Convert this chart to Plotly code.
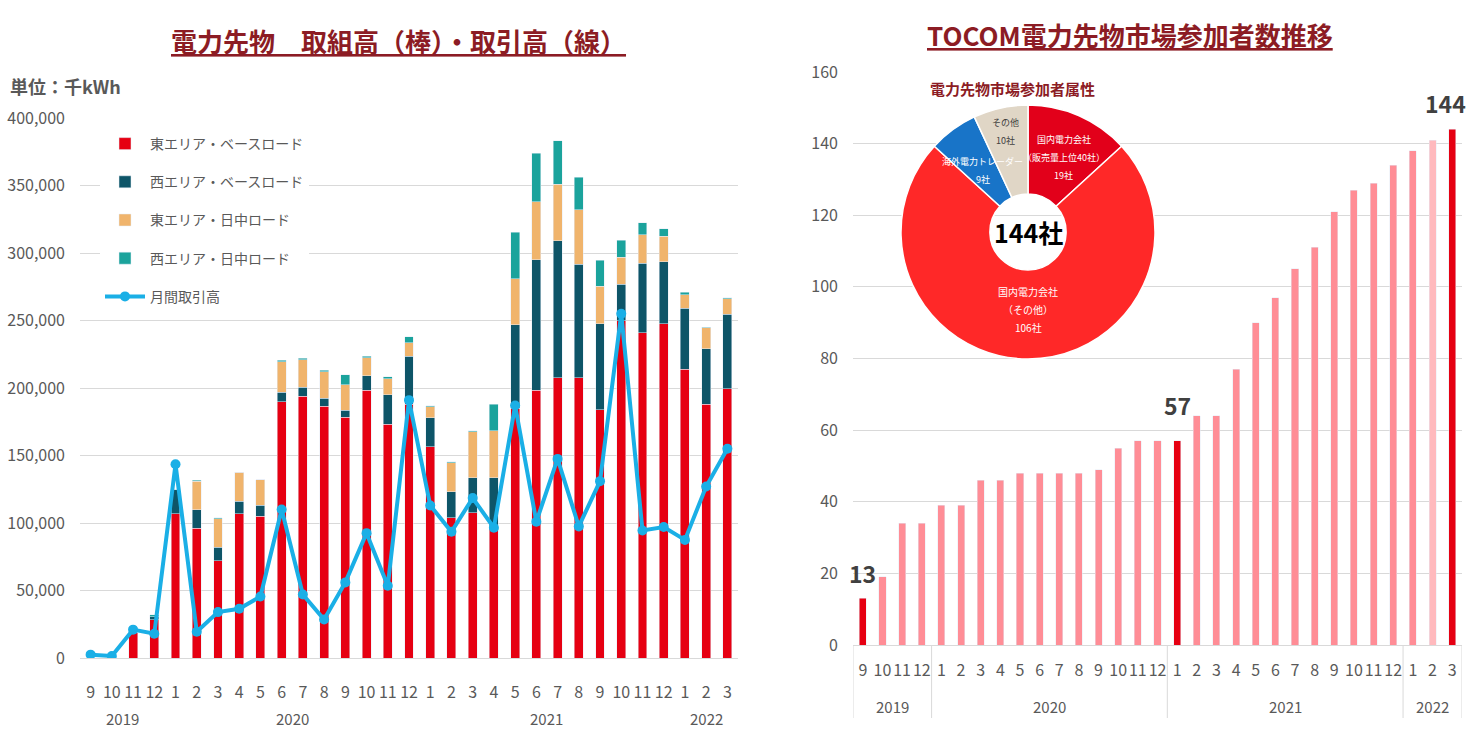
import math
import plotly.graph_objects as go

W, H = 1472, 734

# ---------------- data: left chart ----------------
years_l = ["2019", "2019", "2019", "2019",
           "2020", "2020", "2020", "2020", "2020", "2020", "2020", "2020", "2020", "2020", "2020", "2020",
           "2021", "2021", "2021", "2021", "2021", "2021", "2021", "2021", "2021", "2021", "2021", "2021",
           "2022", "2022", "2022"]
months_l = ["9", "10", "11", "12",
            "1", "2", "3", "4", "5", "6", "7", "8", "9", "10", "11", "12",
            "1", "2", "3", "4", "5", "6", "7", "8", "9", "10", "11", "12",
            "1", "2", "3"]

east_base = [0, 0, 19000, 28500,
             107000, 96000, 72000, 107000, 105000, 190000, 194000, 186500, 178500, 198500, 173000, 188000,
             156500, 104000, 107500, 97000, 185000, 198500, 207500, 207500, 184000, 250000, 241000, 247500,
             214000, 188000, 199500]
west_base = [0, 0, 0, 2000,
             18000, 14000, 10000, 9000, 8000, 7000, 6500, 6000, 5000, 10500, 22000, 35500,
             21500, 19000, 26000, 36500, 62000, 96500, 101500, 84000, 63500, 27000, 51500, 46000,
             45000, 41000, 55000]
east_day = [0, 0, 0, 0,
            0, 21000, 21000, 21500, 19000, 22500, 20500, 19500, 19000, 13500, 12000, 10000,
            8000, 21500, 34000, 35000, 34000, 43000, 42000, 40500, 28000, 20000, 21000, 19000,
            10000, 15500, 11500]
west_day = [0, 0, 0, 1500,
            0, 500, 1000, 0, 0, 1000, 1000, 1000, 7500, 1000, 1500, 4500,
            1000, 1000, 1000, 19500, 34500, 36000, 32000, 24000, 19000, 12500, 9000, 5500,
            2000, 500, 1000]
monthly_trade = [2500, 1500, 21000, 18000,
                 143500, 19500, 34000, 36500, 45500, 110000, 47000, 28500, 56000, 92500, 53500, 191000,
                 113000, 93500, 118500, 96500, 187000, 101000, 147500, 97500, 131000, 255000, 94500, 97000,
                 87500, 127000, 155000]

series_names = ["東エリア・ベースロード", "西エリア・ベースロード", "東エリア・日中ロード", "西エリア・日中ロード"]
line_name = "月間取引高"
left_yticks = [0, 50000, 100000, 150000, 200000, 250000, 300000, 350000, 400000]

# ---------------- data: right chart ----------------
years_r = years_l
months_r = months_l
participants = [13, 19, 34, 34,
                39, 39, 46, 46, 48, 48, 48, 48, 49, 55, 57, 57,
                57, 64, 64, 77, 90, 97, 105, 111, 121, 127, 129, 134,
                138, 141, 144]
highlight_idx = [0, 16, 30]
light_idx = [29]
right_yticks = [0, 20, 40, 60, 80, 100, 120, 140, 160]

pie_labels = ["国内電力会社（販売量上位40社）", "国内電力会社（その他）", "海外電力トレーダー", "その他"]
pie_text_lines = [["国内電力会社", "（販売量上位40社）", "19社"],
                  ["国内電力会社", "（その他）", "106社"],
                  ["海外電力トレーダー", "9社"],
                  ["その他", "10社"]]
pie_values = [19, 106, 9, 10]
pie_total_label = "144社"

# ---------------- styles ----------------
FONT = "Noto Sans CJK JP"
GRAY = "#595959"
GRID = "#D9D9D9"
TITLE_C = "#8C1C24"
bar_colors = ["#E60012", "#0E5568", "#F0B46C", "#1BA39C"]
line_color = "#1AAFE6"
pink = "#FF8D96"
light_pink = "#FFB9BD"
dark_red = "#E60012"
pie_colors = ["#E2001A", "#FF2828", "#1874C8", "#E0D6C6"]
pie_text_colors = ["white", "white", "white", "#404040"]
pie_text_sizes = [9, 10, 9, 9]
pie_label_r = [0.64, 0.61, 0.60, 0.81]     # label distance from centre (fraction of radius)
pie_label_dx = [3, 0, 0, 0]                # small horizontal nudges (px)
pie_line_gap = 18                          # px between label lines
pie_box = (901, 105, 1155, 359)            # x0, y0, x1, y1 in pixels
bar_label_yshift = [6, 17, 7]              # px gap above highlighted bars
bar_label_xshift = [0, 0, -7]


def px_x(x):
    return x / W


def px_y(y):
    return 1 - y / H


xi_l = list(range(len(months_l)))
xi_r = list(range(len(months_r)))

fig = go.Figure()

for name, vals, col in zip(series_names, [east_base, west_base, east_day, west_day], bar_colors):
    fig.add_trace(go.Bar(x=xi_l, y=vals, name=name, marker_color=col, width=0.42,
                         legendgroup=name, xaxis="x", yaxis="y",
                         customdata=[f"{y}/{m}" for y, m in zip(years_l, months_l)],
                         hovertemplate="%{customdata}: %{y:,}<extra>" + name + "</extra>"))
fig.add_trace(go.Scatter(x=xi_l, y=monthly_trade, name=line_name, mode="lines+markers",
                         line=dict(color=line_color, width=4), marker=dict(size=10, color=line_color),
                         legendgroup=line_name, xaxis="x", yaxis="y"))

bar_cols_r = []
for i, v in enumerate(participants):
    if i in highlight_idx:
        bar_cols_r.append(dark_red)
    elif i in light_idx:
        bar_cols_r.append(light_pink)
    else:
        bar_cols_r.append(pink)

fig.add_trace(go.Bar(x=xi_r, y=participants, marker_color=bar_cols_r, width=0.36,
                     customdata=[f"{y}/{m}" for y, m in zip(years_r, months_r)],
                     hovertemplate="%{customdata}: %{y}<extra></extra>",
                     showlegend=False, xaxis="x2", yaxis="y2"))

bx0, by0, bx1, by1 = pie_box
pie_dom_x = [px_x(bx0), px_x(bx1)]
pie_dom_y = [px_y(by1), px_y(by0)]
fig.add_trace(go.Pie(labels=pie_labels, values=pie_values, hole=0.3, sort=False,
                     direction="clockwise", rotation=0, domain=dict(x=pie_dom_x, y=pie_dom_y),
                     showlegend=False, textinfo="none",
                     marker=dict(colors=pie_colors, line=dict(color="white", width=1.5)),
                     hoverinfo="label+value"))

tickfont = dict(family=FONT, size=16, color=GRAY)

fig.update_layout(
    width=W, height=H, margin=dict(l=0, r=0, t=0, b=0, autoexpand=False),
    paper_bgcolor="white", plot_bgcolor="white",
    barmode="stack",
    font=dict(family=FONT, color=GRAY),
    xaxis=dict(domain=[px_x(80), px_x(738)], anchor="y", range=[-0.5, len(xi_l) - 0.5],
               tickvals=xi_l, ticktext=months_l, tickangle=0, tickfont=tickfont,
               showgrid=False, zeroline=False, showline=True, linecolor=GRID, linewidth=1,
               ticks="", ticklabelstandoff=20, automargin=False),
    yaxis=dict(domain=[px_y(658), px_y(118)], anchor="x", range=[0, 400000],
               tickvals=left_yticks, tickformat=",", tickfont=tickfont,
               showgrid=True, gridcolor=GRID, gridwidth=1, zeroline=False,
               ticklabelstandoff=14, automargin=False),
    xaxis2=dict(domain=[px_x(853), px_x(1462)], anchor="y2", range=[-0.5, len(xi_r) - 0.5],
                tickvals=xi_r, ticktext=months_r, tickangle=0, tickfont=tickfont,
                showgrid=False, zeroline=False, showline=True, linecolor=GRID, linewidth=1,
                ticks="", ticklabelstandoff=11, automargin=False),
    yaxis2=dict(domain=[px_y(645), px_y(72)], anchor="x2", range=[0, 160],
                tickvals=right_yticks, tickfont=tickfont,
                showgrid=True, gridcolor=GRID, gridwidth=1, zeroline=False,
                ticklabelstandoff=14, automargin=False),
    legend=dict(x=px_x(100), y=px_y(128), xanchor="left", yanchor="top",
                bgcolor="white", font=dict(family=FONT, size=14, color=GRAY),
                traceorder="grouped", tracegroupgap=17, itemwidth=40),
)

annotations = [
    dict(text="<u>電力先物　取組高（棒）・取引高（線）</u>", x=px_x(398), y=px_y(40),
         font=dict(family=FONT, size=26, color=TITLE_C, weight="bold")),
    dict(text="<u>TOCOM電力先物市場参加者数推移</u>", x=px_x(1130), y=px_y(35),
         font=dict(family=FONT, size=26, color=TITLE_C, weight="bold")),
    dict(text="単位：千kWh", x=px_x(8), y=px_y(86), xanchor="left",
         font=dict(family=FONT, size=18, color=GRAY, weight="bold")),
    dict(text="電力先物市場参加者属性", x=px_x(1012), y=px_y(88),
         font=dict(family=FONT, size=15, color=TITLE_C, weight="bold")),
    dict(text=pie_total_label, x=sum(pie_dom_x) / 2, y=sum(pie_dom_y) / 2,
         font=dict(family=FONT, size=25, color="black", weight="bold")),
]
for a in annotations:
    a.update(xref="paper", yref="paper")

# value labels above the highlighted bars
for k, i in enumerate(highlight_idx):
    annotations.append(dict(text=str(participants[i]), x=xi_r[i], y=participants[i], xref="x2", yref="y2",
                            yanchor="bottom", yshift=bar_label_yshift[k], xshift=bar_label_xshift[k],
                            font=dict(family=FONT, size=23, color="#404040", weight="bold")))

# pie slice labels: placed at each slice's mid-angle (computed from the values)
cx, cy, R = (bx0 + bx1) / 2, (by0 + by1) / 2, (bx1 - bx0) / 2
total = sum(pie_values)
start = 0.0
for k, v in enumerate(pie_values):
    mid = math.radians((start + v / 2) / total * 360)
    start += v
    lx = cx + pie_label_r[k] * R * math.sin(mid) + pie_label_dx[k]
    ly = cy - pie_label_r[k] * R * math.cos(mid)
    lines = pie_text_lines[k]
    n = len(lines)
    for j, line in enumerate(lines):
        annotations.append(dict(text=line, x=px_x(lx), y=px_y(ly + (j - (n - 1) / 2) * pie_line_gap),
                                xref="paper", yref="paper",
                                font=dict(family=FONT, size=pie_text_sizes[k], color=pie_text_colors[k])))


# year labels under the month ticks (centred on each year's months)
def year_groups(years):
    groups = []
    for i, y in enumerate(years):
        if groups and groups[-1][0] == y:
            groups[-1][2] = i
        else:
            groups.append([y, i, i])
    return groups


for y, i0, i1 in year_groups(years_l):
    annotations.append(dict(text=y, x=(i0 + i1) / 2, xref="x", y=px_y(718), yref="paper",
                            font=dict(family=FONT, size=15, color=GRAY)))
shapes = []
groups_r = year_groups(years_r)
for y, i0, i1 in groups_r:
    annotations.append(dict(text=y, x=(i0 + i1) / 2, xref="x2", y=px_y(706), yref="paper",
                            font=dict(family=FONT, size=15, color=GRAY)))
bounds = [g[1] - 0.5 for g in groups_r] + [groups_r[-1][2] + 0.5]
for b in bounds:
    shapes.append(dict(type="line", xref="x2", yref="paper", x0=b, x1=b,
                       y0=px_y(718), y1=px_y(645), line=dict(color=GRID, width=1)))

for a in annotations:
    a.setdefault("showarrow", False)
    a.setdefault("xanchor", "center")
    a.setdefault("yanchor", "middle")
fig.update_layout(annotations=annotations, shapes=shapes)

fig.write_html("out.html", config={"displayModeBar": False},
               post_script="document.body.style.margin='0px';")
